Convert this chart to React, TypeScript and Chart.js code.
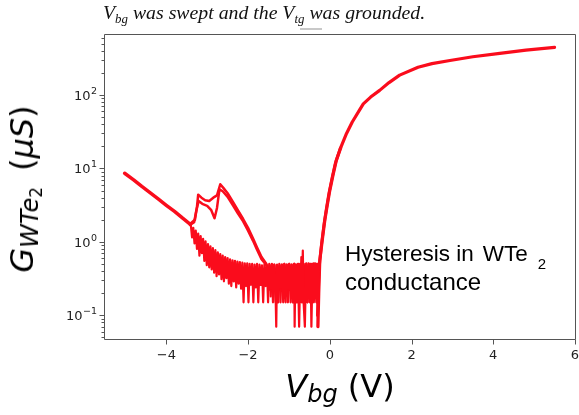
import React, { useEffect, useRef } from 'react';
import { Chart, registerables } from 'chart.js';

Chart.register(...registerables);

// ---- data ----
const leftX = [-5.02, -4.8, -4.6, -4.4, -4.2, -4.0, -3.8, -3.6, -3.42];
const leftY = [8.6, 7.0, 5.7, 4.7, 3.85, 3.15, 2.6, 2.1, 1.75];

// forward sweep through the noisy low-conductance region
const noiseX = [
  -3.40, -3.37, -3.34, -3.31, -3.28, -3.25, -3.22, -3.19, -3.16, -3.13,
  -3.10, -3.07, -3.04, -3.01, -2.98, -2.95, -2.92, -2.89, -2.86, -2.83,
  -2.80, -2.77, -2.74, -2.71, -2.68, -2.65, -2.62, -2.59, -2.56, -2.53,
  -2.50, -2.47, -2.44, -2.41, -2.38, -2.35, -2.32, -2.29, -2.26, -2.23,
  -2.20, -2.17, -2.14, -2.11, -2.08, -2.05, -2.02, -1.99, -1.96, -1.93,
  -1.90, -1.87, -1.84, -1.81, -1.78, -1.75, -1.72, -1.69, -1.66, -1.63,
  -1.60, -1.57, -1.54, -1.51, -1.48, -1.45, -1.42, -1.39, -1.36, -1.33,
  -1.31, -1.29, -1.26, -1.23, -1.20, -1.17, -1.14, -1.11, -1.08, -1.05,
  -1.02, -0.99, -0.96, -0.93, -0.90, -0.87, -0.86, -0.84, -0.81, -0.78,
  -0.75, -0.72, -0.69, -0.66, -0.64, -0.61, -0.58, -0.55, -0.52, -0.49,
  -0.47, -0.45, -0.42, -0.39, -0.36, -0.33, -0.31, -0.29,
];
const noiseY = [
  1.70, 1.15, 1.55, 0.95, 1.42, 0.80, 1.30, 0.65, 1.20, 0.70,
  1.10, 0.55, 1.02, 0.48, 0.93, 0.45, 0.87, 0.42, 0.82, 0.38,
  0.77, 0.34, 0.72, 0.36, 0.68, 0.31, 0.65, 0.29, 0.62, 0.32,
  0.60, 0.27, 0.58, 0.25, 0.56, 0.29, 0.55, 0.24, 0.54, 0.27,
  0.53, 0.23, 0.52, 0.15, 0.51, 0.25, 0.51, 0.15, 0.50, 0.26,
  0.50, 0.15, 0.49, 0.24, 0.50, 0.15, 0.49, 0.26, 0.48, 0.15,
  0.49, 0.25, 0.48, 0.15, 0.50, 0.23, 0.48, 0.15, 0.49, 0.25,
  0.07, 0.49, 0.15, 0.48, 0.24, 0.49, 0.15, 0.50, 0.15, 0.49,
  0.23, 0.50, 0.15, 0.49, 0.15, 0.50, 0.07, 0.49, 0.15, 0.50,
  0.07, 0.50, 0.15, 0.76, 0.15, 0.07, 0.50, 0.15, 0.51, 0.15,
  0.50, 0.07, 0.50, 0.15, 0.51, 0.15, 0.50, 0.07,
];

// return sweep through the noisy region (after the hysteresis bump)
const returnNoiseX = [
  -1.535, -1.505, -1.475, -1.445, -1.415, -1.385, -1.355, -1.325, -1.295, -1.265,
  -1.235, -1.205, -1.175, -1.145, -1.115, -1.085, -1.055, -1.025, -0.995, -0.965,
  -0.935, -0.905, -0.875, -0.845, -0.815, -0.785, -0.755, -0.725, -0.695, -0.665,
  -0.635, -0.605, -0.575, -0.545, -0.515, -0.485, -0.455, -0.425, -0.395, -0.365,
  -0.335, -0.305,
];
const returnNoiseY = [
  0.48, 0.22, 0.49, 0.18, 0.50, 0.28, 0.49, 0.15, 0.48, 0.22,
  0.50, 0.15, 0.49, 0.28, 0.50, 0.18, 0.49, 0.15, 0.50, 0.22,
  0.49, 0.15, 0.50, 0.20, 0.49, 0.15, 0.50, 0.18, 0.62, 0.15,
  0.50, 0.20, 0.51, 0.15, 0.50, 0.20, 0.50, 0.15, 0.51, 0.20,
  0.50, 0.15,
];

const riseX = [-0.29, -0.27, -0.245, -0.18, -0.12, -0.06, 0.0, 0.08, 0.16, 0.28, 0.41, 0.55, 0.73, 0.82, 1.0, 1.22, 1.45, 1.71, 2.16, 2.5, 2.94, 3.5, 4.16, 4.8, 5.5];
const riseY = [0.07, 0.2, 0.56, 1.1, 2.0, 3.2, 5.0, 8.2, 12.9, 20, 30, 43, 63, 76, 94, 116, 148, 187, 240, 268, 296, 333, 371, 410, 447];

const returnRiseX = [-0.3, -0.26, -0.2, -0.14, -0.08, -0.02, 0.06, 0.14, 0.26];
const returnRiseY = [0.1, 0.45, 0.95, 1.75, 2.9, 4.6, 7.6, 12, 19];

const bumpOuterX = [-3.42, -3.30, -3.25, -3.22, -3.14, -3.05, -2.95, -2.85, -2.76, -2.68, -2.60, -2.50, -2.37, -2.25, -2.12, -2.00, -1.88, -1.78, -1.67, -1.55];
const bumpOuterY = [1.75, 2.0, 3.0, 4.4, 4.0, 3.7, 3.6, 4.0, 4.3, 6.1, 5.4, 4.6, 3.5, 2.7, 2.05, 1.55, 1.12, 0.84, 0.62, 0.5];
const bumpInnerX = [-3.42, -3.32, -3.27, -3.21, -3.12, -3.00, -2.90, -2.82, -2.76, -2.70, -2.62, -2.50, -2.37, -2.25, -2.12, -2.00, -1.88, -1.78, -1.67, -1.55];
const bumpInnerY = [1.7, 1.85, 2.6, 3.6, 3.3, 3.1, 2.7, 2.1, 2.9, 5.2, 4.9, 4.1, 3.15, 2.45, 1.9, 1.42, 1.04, 0.78, 0.58, 0.48];

const xTickValues = [-4, -2, 0, 2, 4, 6];
const xTickLabels = ['\u22124', '\u22122', '0', '2', '4', '6'];
const yMajorValues = [0.1, 1, 10, 100];
const yMajorExponents = ['\u22121', '0', '1', '2'];
const yMinorMultipliers = [2, 3, 4, 5, 6, 7, 8, 9];
const yDecades = [0.01, 0.1, 1, 10, 100];

const X_MIN = -5.525;
const X_MAX = 6.025;
const Y_MIN = 0.046;
const Y_MAX = 680;

const RED = 'rgb(250,12,28)';
const AXIS = '#555555';
const TICK_TEXT = '#222222';

function zip(xs: number[], ys: number[]) {
  return xs.map((x, i) => ({ x, y: ys[i] }));
}

function majorIndex(v: number) {
  return yMajorValues.findIndex((m) => Math.abs(v - m) / m < 1e-6);
}

const yTickValues: number[] = [];
yDecades.forEach((d) => {
  yTickValues.push(d);
  yMinorMultipliers.forEach((m) => yTickValues.push(d * m));
});
const yTicksInRange = yTickValues.filter((v) => v >= Y_MIN && v <= Y_MAX).sort((a, b) => a - b);

const frameTicksPlugin = {
  id: 'frameTicks',
  afterDraw(chart: any) {
    const { ctx, chartArea: a, scales } = chart;
    ctx.save();
    ctx.strokeStyle = AXIS;
    ctx.lineWidth = 1;
    ctx.beginPath();
    const l = Math.round(a.left) + 0.5;
    const r = Math.round(a.right) - 0.5;
    const t = Math.round(a.top) + 0.5;
    const b = Math.round(a.bottom) - 0.5;
    ctx.rect(l, t, r - l, b - t);
    ctx.stroke();
    ctx.beginPath();
    scales.x.ticks.forEach((tk: any) => {
      const px = Math.round(scales.x.getPixelForValue(tk.value)) + 0.5;
      ctx.moveTo(px, b);
      ctx.lineTo(px, b + 5);
    });
    scales.y.ticks.forEach((tk: any) => {
      const py = Math.round(scales.y.getPixelForValue(tk.value)) + 0.5;
      const len = majorIndex(tk.value) >= 0 ? 5 : 3;
      ctx.moveTo(l, py);
      ctx.lineTo(l - len, py);
    });
    ctx.stroke();

    // y tick labels: "10" with a raised exponent, like matplotlib mathtext
    ctx.fillStyle = TICK_TEXT;
    ctx.textBaseline = 'alphabetic';
    ctx.textAlign = 'left';
    scales.y.ticks.forEach((tk: any) => {
      const i = majorIndex(tk.value);
      if (i < 0) return;
      const py = scales.y.getPixelForValue(tk.value);
      ctx.font = '13px "DejaVu Sans", sans-serif';
      const w1 = ctx.measureText('10').width;
      ctx.font = '9.5px "DejaVu Sans", sans-serif';
      const w2 = ctx.measureText(yMajorExponents[i]).width;
      const right = l - 7.5;
      const x0 = right - w2 - w1 - 0.5;
      ctx.font = '13px "DejaVu Sans", sans-serif';
      ctx.fillText('10', x0, py + 4.8);
      ctx.font = '9.5px "DejaVu Sans", sans-serif';
      ctx.fillText(yMajorExponents[i], x0 + w1 + 0.5, py - 1.2);
    });
    ctx.restore();
  },
};

const lineStyle = (width: number) => ({
  borderColor: RED,
  backgroundColor: RED,
  borderWidth: width,
  pointRadius: 0,
  borderJoinStyle: 'round' as const,
  borderCapStyle: 'round' as const,
  tension: 0,
  fill: false,
});

export default function App() {
  const ref = useRef<HTMLCanvasElement | null>(null);

  useEffect(() => {
    if (!ref.current) return;
    const tickFont = { family: '"DejaVu Sans", sans-serif', size: 13 };
    const chart = new Chart(ref.current, {
      type: 'line',
      data: {
        datasets: [
          { data: zip(leftX, leftY), ...lineStyle(3.5) },
          { data: zip(noiseX, noiseY), ...lineStyle(2.2) },
          { data: zip(returnNoiseX, returnNoiseY), ...lineStyle(2.2) },
          { data: zip(bumpOuterX, bumpOuterY), ...lineStyle(2.5) },
          { data: zip(bumpInnerX, bumpInnerY), ...lineStyle(2.5) },
          { data: zip(riseX, riseY), ...lineStyle(3.2) },
          { data: zip(returnRiseX, returnRiseY), ...lineStyle(3) },
        ] as any,
      },
      options: {
        animation: false,
        responsive: false,
        devicePixelRatio: 1,
        layout: { padding: { top: 34, right: 3, left: 0, bottom: 0 } },
        plugins: { legend: { display: false }, tooltip: { enabled: false }, title: { display: false } },
        scales: {
          x: {
            type: 'linear',
            min: X_MIN,
            max: X_MAX,
            afterBuildTicks: (s: any) => {
              s.ticks = xTickValues.map((v) => ({ value: v }));
            },
            afterFit: (s: any) => {
              s.height = 75;
              s.paddingLeft = 0;
              s.paddingRight = 0;
            },
            ticks: {
              autoSkip: false,
              maxRotation: 0,
              padding: 8,
              color: TICK_TEXT,
              font: tickFont,
              callback: (v: any) => {
                const i = xTickValues.indexOf(Number(v));
                return i >= 0 ? xTickLabels[i] : '';
              },
            },
            grid: { display: false, drawTicks: false },
            border: { display: false },
          },
          y: {
            type: 'logarithmic',
            min: Y_MIN,
            max: Y_MAX,
            afterBuildTicks: (s: any) => {
              s.ticks = yTicksInRange.map((v) => ({ value: v, major: majorIndex(v) >= 0 }));
            },
            afterFit: (s: any) => {
              s.width = 104;
              s.paddingTop = 0;
              s.paddingBottom = 0;
            },
            ticks: {
              autoSkip: false,
              padding: 7,
              display: true,
              color: 'rgba(0,0,0,0)',
              font: tickFont,
              callback: () => '',
            },
            grid: { display: false, drawTicks: false },
            border: { display: false },
          },
        },
      } as any,
      plugins: [frameTicksPlugin],
    });
    return () => chart.destroy();
  }, []);

  const sub: React.CSSProperties = { fontSize: '0.75em', position: 'relative', top: '0.22em', fontStyle: 'italic' };

  return (
    <div style={{ position: 'absolute', left: 0, top: 0, width: 579, height: 415, background: '#fff', overflow: 'hidden' }}>
      <canvas ref={ref} width={579} height={415} style={{ position: 'absolute', left: 0, top: 0, width: 579, height: 415 }} />
      <div
        style={{
          position: 'absolute', left: 103, top: 2, fontFamily: '"Liberation Serif", "Times New Roman", serif',
          fontStyle: 'italic', fontSize: 19.8, lineHeight: '20px', whiteSpace: 'nowrap', color: '#111',
        }}
      >
        V<span style={{ fontSize: '0.65em', position: 'relative', top: '0.28em' }}>bg</span> was swept and the V
        <span style={{ fontSize: '0.65em', position: 'relative', top: '0.28em' }}>tg</span> was grounded.
      </div>
      <div style={{ position: 'absolute', left: 300, top: 28, width: 22, height: 1.5, background: '#c8c8c8' }} />
      <div
        style={{
          position: 'absolute', left: 22, top: 189, transform: 'translate(-50%, -50%) rotate(-90deg)',
          fontFamily: '"DejaVu Sans", sans-serif', fontSize: 32, lineHeight: '32px', height: 32, whiteSpace: 'nowrap', color: '#000',
        }}
      >
        <i>G</i>
        <span style={sub}>
          WTe<span style={{ fontSize: '0.7em', position: 'relative', top: '0.2em', fontStyle: 'normal' }}>2</span>
        </span>
        {'\u2002'}(<i>μS</i>)
      </div>
      <div
        style={{
          position: 'absolute', left: 340, top: 370, transform: 'translateX(-50%)',
          fontFamily: '"DejaVu Sans", sans-serif', fontSize: 32, lineHeight: '32px', height: 32, whiteSpace: 'nowrap', color: '#000',
        }}
      >
        <i>V</i>
        <span style={sub}>bg</span> (V)
      </div>
      <div
        style={{
          position: 'absolute', left: 345, top: 243, fontFamily: '"Liberation Sans", Arial, sans-serif',
          fontSize: 22.5, lineHeight: '22.5px', whiteSpace: 'nowrap', color: '#000',
        }}
      >
        Hysteresis in<span style={{ marginLeft: 9 }}>WTe</span>
        <span style={{ fontSize: 15, position: 'relative', top: 8, marginLeft: 10 }}>2</span>
      </div>
      <div
        style={{
          position: 'absolute', left: 345, top: 269.7, fontFamily: '"Liberation Sans", Arial, sans-serif',
          fontSize: 24, lineHeight: '24px', whiteSpace: 'nowrap', color: '#000',
        }}
      >
        conductance
      </div>
    </div>
  );
}
